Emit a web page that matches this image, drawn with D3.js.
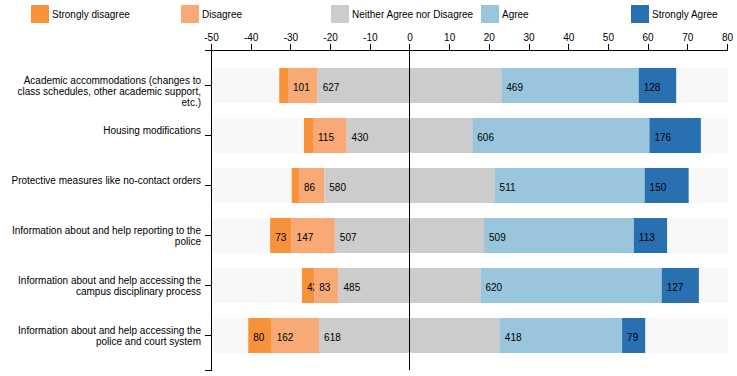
<!DOCTYPE html>
<html>
<head>
<meta charset="utf-8">
<script src="https://cdn.jsdelivr.net/npm/d3@7"></script>
<style>
body { margin: 0; background: #fff; }
text { font-family: "Liberation Sans", Arial, sans-serif; font-size: 10px; fill: #000; }
.axis path, .axis line { fill: none; stroke: #000; shape-rendering: crispEdges; }
</style>
</head>
<body>
<script>
var margin = {top: 50, right: 10, bottom: 6, left: 211}
var width = 516
var height = 320

var questions = [
  "Academic accommodations (changes to class schedules, other academic support, etc.)",
  "Housing modifications",
  "Protective measures like no-contact orders",
  "Information about and help reporting to the police",
  "Information about and help accessing the campus disciplinary process",
  "Information about and help accessing the police and court system"
]
var answers = ["Strongly disagree", "Disagree", "Neither Agree nor Disagree", "Agree", "Strongly Agree"]
var strongly_disagree = [30, 31, 25, 73, 42, 80]
var disagree = [101, 115, 86, 147, 83, 162]
var neutral = [627, 430, 580, 507, 485, 618]
var agree = [469, 606, 511, 509, 620, 418]
var strongly_agree = [128, 176, 150, 113, 127, 79]
var x_ticks = [-50, -40, -30, -20, -10, 0, 10, 20, 30, 40, 50, 60, 70, 80]
var colors = ["#f7923a", "#f8a976", "#cccccc", "#99c6dd", "#2870b0"]

// percentages per row, neutral split over the zero line
var rows = questions.map(function(q, i) {
  var counts = [strongly_disagree[i], disagree[i], neutral[i], agree[i], strongly_agree[i]]
  var total = d3.sum(counts)
  var x0 = -(counts[0] + counts[1] + counts[2] / 2) / total * 100
  var boxes = counts.map(function(n, j) {
    var b = {name: answers[j], n: n, x0: x0, x1: x0 + n / total * 100}
    x0 = b.x1
    return b
  })
  return {question: q, boxes: boxes}
})

var x = d3.scaleLinear()
.domain([-50, 80])
.range([0, width])

var y = d3.scaleBand()
.domain(questions)
.rangeRound([0, height])
.paddingInner(0.3)
.paddingOuter(0.3)

var color = d3.scaleOrdinal()
.domain(answers)
.range(colors)

var svg = d3.select("body").append("svg")
.attr("width", 737)
.attr("height", 376)

var g = svg.append("g")
.attr("transform", "translate(" + margin.left + "," + margin.top + ")")

g.append("g")
.attr("class", "x axis")
.call(d3.axisTop(x).tickValues(x_ticks).tickFormat(function(d) { return String(d) }))

g.append("g")
.attr("class", "y axis")
.call(d3.axisLeft(y).tickSize(6))
.selectAll(".tick text")
.call(wrap, 192)

var vakken = g.selectAll(".question")
.data(rows)
.enter().append("g")
.attr("class", "bar")
.attr("transform", function(d) { return "translate(0," + y(d.question) + ")" })

vakken.append("rect")
.attr("x", 1)
.attr("width", width)
.attr("height", y.bandwidth())
.style("fill", "#f8f8f8")

var bars = vakken.selectAll(".subbar")
.data(function(d) { return d.boxes })
.enter().append("g")
.attr("class", "subbar")

bars.append("rect")
.attr("x", function(d) { return x(d.x0) })
.attr("width", function(d) { return x(d.x1) - x(d.x0) })
.attr("height", y.bandwidth())
.style("fill", function(d) { return color(d.name) })

bars.append("text")
.attr("x", function(d) { return x(d.x0) })
.attr("y", y.bandwidth() / 2)
.attr("dy", "0.5em")
.attr("dx", "0.5em")
.text(function(d) { return (d.x1 - d.x0) > 3 ? d.n : "" })

g.append("g")
.attr("class", "y axis")
.append("line")
.attr("x1", x(0))
.attr("x2", x(0))
.attr("y2", height)

var legend = svg.append("g")
.selectAll(".legend")
.data(answers)
.enter().append("g")
.attr("class", "legend")
.attr("transform", function(d, i) { return "translate(" + (31 + i * 150) + ",5)" })

legend.append("rect")
.attr("width", 18)
.attr("height", 18)
.style("fill", function(d) { return color(d) })

legend.append("text")
.attr("x", 21)
.attr("y", 9)
.attr("dy", ".35em")
.text(function(d) { return d })

function wrap(text, w) {
  text.each(function() {
    var text = d3.select(this)
    var words = text.text().split(/\s+/).reverse()
    var word, line = [], lineNumber = 0
    var tspan = text.text(null).attr("x", -10).append("tspan").attr("x", -10).attr("y", -2).attr("dy", 0)
    while (word = words.pop()) {
      line.push(word)
      tspan.text(line.join(" "))
      if (tspan.node().getComputedTextLength() > w && line.length > 1) {
        line.pop()
        tspan.text(line.join(" "))
        line = [word]
        lineNumber++
        tspan = text.append("tspan").attr("x", -10).attr("y", -2).attr("dy", (lineNumber * 1.1) + "em").text(word)
      }
    }
  })
}
</script>
</body>
</html>
